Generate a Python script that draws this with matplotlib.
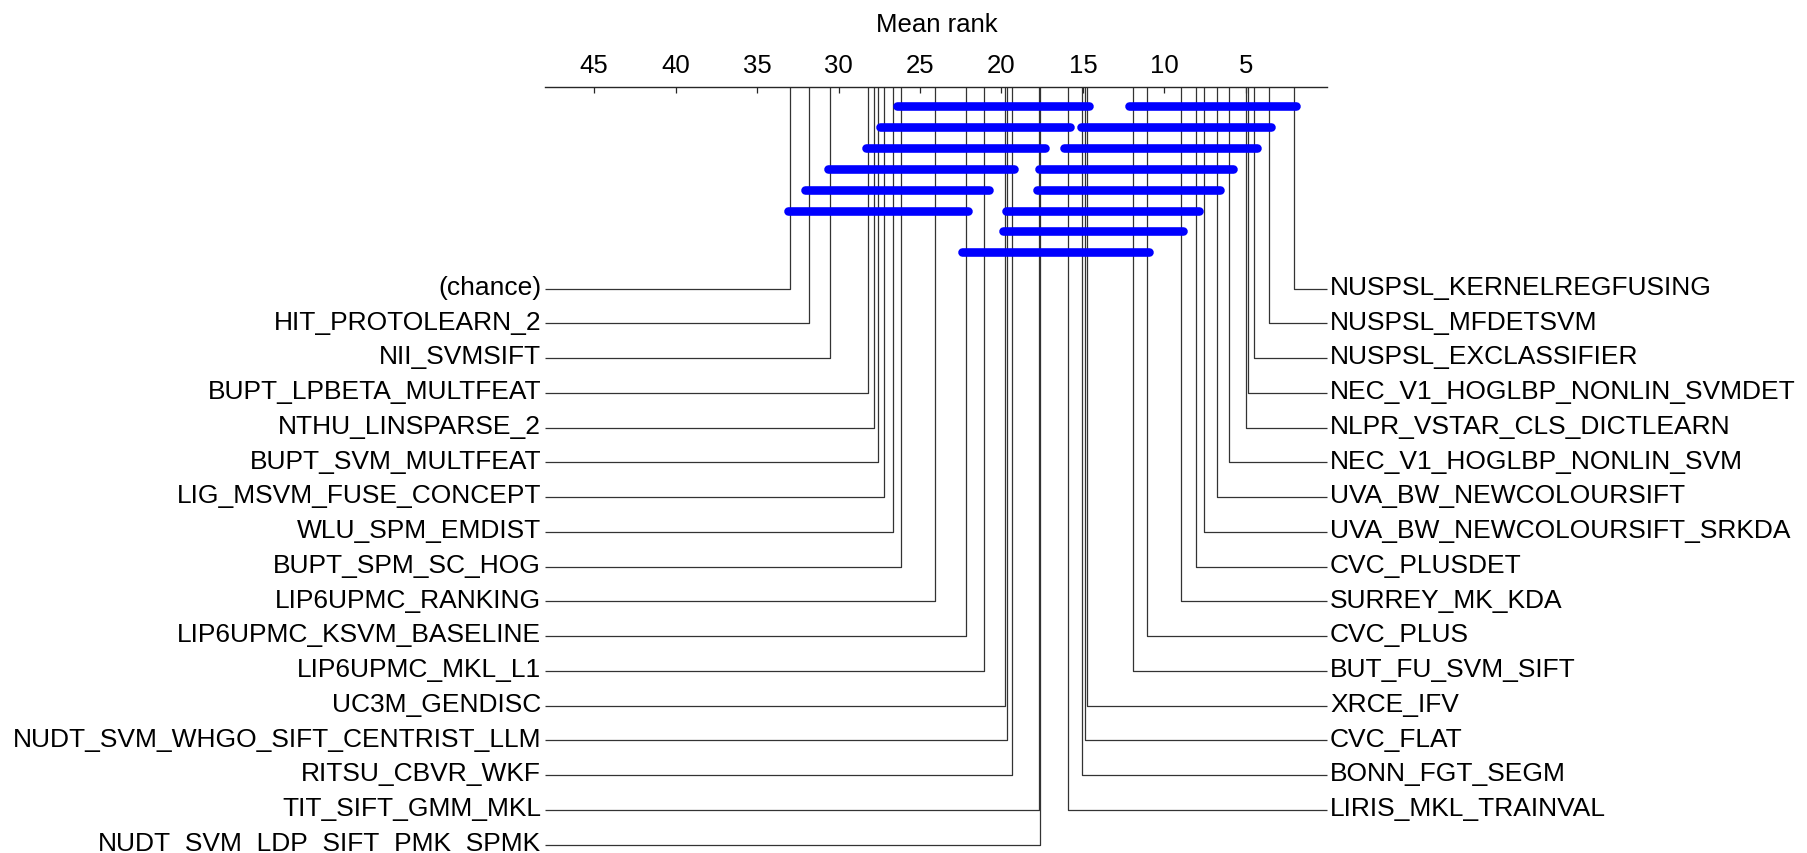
import matplotlib
matplotlib.use("Agg")
import matplotlib.pyplot as plt

plt.rcParams['font.family'] = ['Liberation Sans', 'DejaVu Sans']

# ---------------- data ----------------
left_names = ['(chance)', 'HIT_PROTOLEARN_2', 'NII_SVMSIFT', 'BUPT_LPBETA_MULTFEAT',
              'NTHU_LINSPARSE_2', 'BUPT_SVM_MULTFEAT', 'LIG_MSVM_FUSE_CONCEPT',
              'WLU_SPM_EMDIST', 'BUPT_SPM_SC_HOG', 'LIP6UPMC_RANKING',
              'LIP6UPMC_KSVM_BASELINE', 'LIP6UPMC_MKL_L1', 'UC3M_GENDISC',
              'NUDT_SVM_WHGO_SIFT_CENTRIST_LLM', 'RITSU_CBVR_WKF', 'TIT_SIFT_GMM_MKL',
              'NUDT_SVM_LDP_SIFT_PMK_SPMK']
left_ranks = [32.97, 31.81, 30.52, 28.19, 27.83, 27.58, 27.19, 26.67, 26.17, 24.10,
              22.18, 21.05, 19.76, 19.67, 19.37, 17.68, 17.62]

right_names = ['NUSPSL_KERNELREGFUSING', 'NUSPSL_MFDETSVM', 'NUSPSL_EXCLASSIFIER',
               'NEC_V1_HOGLBP_NONLIN_SVMDET', 'NLPR_VSTAR_CLS_DICTLEARN',
               'NEC_V1_HOGLBP_NONLIN_SVM', 'UVA_BW_NEWCOLOURSIFT',
               'UVA_BW_NEWCOLOURSIFT_SRKDA', 'CVC_PLUSDET', 'SURREY_MK_KDA', 'CVC_PLUS',
               'BUT_FU_SVM_SIFT', 'XRCE_IFV', 'CVC_FLAT', 'BONN_FGT_SEGM',
               'LIRIS_MKL_TRAINVAL']
right_ranks = [2.03, 3.59, 4.51, 4.88, 5.02, 6.03, 6.80, 7.56, 8.09, 8.97, 11.04,
               11.95, 14.75, 14.88, 15.03, 15.92]

# groups of not significantly different methods (rank span) and their row
clique_start = [26.40, 12.19, 27.44, 15.14, 28.34, 16.17, 30.63, 17.69,
                32.06, 17.81, 33.09, 19.75, 19.88, 22.41]
clique_end = [14.65, 1.93, 15.80, 3.44, 17.35, 4.34, 19.24, 5.78,
              20.77, 6.56, 22.04, 7.85, 8.85, 10.92]
clique_row = [0, 0, 1, 1, 2, 2, 3, 3, 4, 4, 5, 5, 6, 7]

tick_values = [45, 40, 35, 30, 25, 20, 15, 10, 5]
axis_min, axis_max = 0, 48

# ---------------- figure ----------------
W, H = 1808, 854
fig = plt.figure(figsize=(W / 100, H / 100), dpi=100)

px_per_rank = 16.29
x0 = 1327.3  # pixel of rank 0
x_left = x0 - axis_max * px_per_rank
axis_y = 88
ax = fig.add_axes([x_left / W, 0, (x0 - x_left) / W, (H - axis_y) / H])
ax.set_xlim(axis_max, axis_min)
ax.set_ylim(H, axis_y)   # vertical units are pixels from top

for s in ['left', 'right', 'bottom']:
    ax.spines[s].set_visible(False)
ax.spines['top'].set_color('0.15')
ax.spines['top'].set_linewidth(1.0)
ax.set_yticks([])
ax.xaxis.set_ticks_position('top')
ax.xaxis.set_label_position('top')
ax.set_xticks(tick_values)
ax.set_xticklabels([str(t) for t in tick_values])
ax.tick_params(axis='x', direction='in', length=4.5, width=0.9, color='0.15',
               pad=7, labelsize=18.5)
ax.set_xlabel('Mean rank', fontsize=18.5, labelpad=16)

line_kw = dict(color='0.2', lw=0.9, clip_on=False, solid_capstyle='butt')
label_y0 = 289.5
label_dy = 34.75
fs = 19

for i, (name, r) in enumerate(zip(left_names, left_ranks)):
    y = label_y0 + i * label_dy
    ax.plot([r, r, axis_max], [axis_y, y, y], **line_kw)
    ax.annotate(name, xy=(axis_max, y), xytext=(-3, 1.2), textcoords='offset points',
                ha='right', va='center', fontsize=fs, annotation_clip=False)

for i, (name, r) in enumerate(zip(right_names, right_ranks)):
    y = label_y0 + i * label_dy
    ax.plot([r, r, axis_min], [axis_y, y, y], **line_kw)
    ax.annotate(name, xy=(axis_min, y), xytext=(2.0, 1.2), textcoords='offset points',
                ha='left', va='center', fontsize=fs, annotation_clip=False)

bar_y0 = 107.0
bar_dy = 20.9
for s, e, row in zip(clique_start, clique_end, clique_row):
    y = bar_y0 + row * bar_dy
    ax.plot([s, e], [y, y], color='#0000FF', lw=6.2, solid_capstyle='round',
            clip_on=False, zorder=5)

fig.savefig('out.png', dpi=100)
